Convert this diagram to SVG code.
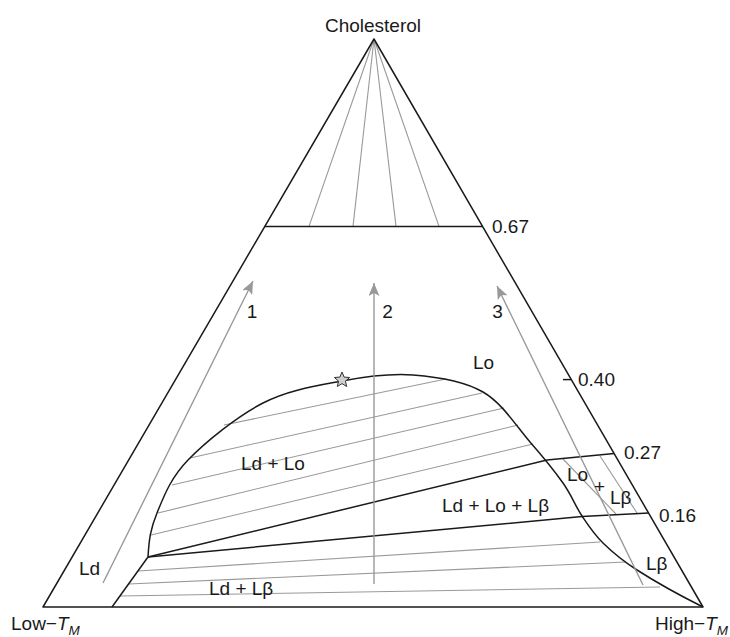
<svg xmlns="http://www.w3.org/2000/svg" width="730" height="637" viewBox="0 0 730 637">
<style>
.blk{fill:none;stroke:#1a1a1a;stroke-width:1.5;stroke-linejoin:round}
.gry{fill:none;stroke:#999;stroke-width:1.1}
.arr{fill:none;stroke:#999;stroke-width:1.4}
text{font-family:"Liberation Sans",Arial,sans-serif;font-size:19px;fill:#1a1a1a}
.sub{font-size:13.5px;font-style:italic}
.it{font-style:italic}
</style>
<defs>
<marker id="ah" markerUnits="userSpaceOnUse" markerWidth="14" markerHeight="11" refX="13" refY="5.5" orient="auto">
<path d="M0,0 L13,5.5 L0,11 L3,5.5 z" fill="#999"/>
</marker>
</defs>
<rect width="730" height="637" fill="#fff"/>

<g id="tielines" class="gry">
<line x1="374" y1="39" x2="309" y2="226.4"/>
<line x1="374" y1="39" x2="353" y2="226.4"/>
<line x1="374" y1="39" x2="396" y2="226.4"/>
<line x1="374" y1="39" x2="439" y2="226.4"/>
<line x1="224" y1="425" x2="446" y2="379"/>
<line x1="190" y1="458" x2="482" y2="393"/>
<line x1="172" y1="485" x2="504" y2="408"/>
<line x1="158" y1="513" x2="518" y2="425"/>
<line x1="151" y1="535" x2="533" y2="444"/>
<line x1="138" y1="571" x2="600" y2="542"/>
<line x1="128.5" y1="584" x2="626" y2="562"/>
<line x1="120" y1="596" x2="660" y2="587"/>
<line x1="563" y1="459" x2="616" y2="514"/>
<line x1="600" y1="456" x2="637" y2="513"/>
</g>

<g id="triangle" class="blk">
<path d="M374,39 L43,607 L703,607 Z"/>
<line x1="264.8" y1="226.4" x2="482.6" y2="226.4"/>
<line x1="563" y1="379.6" x2="571.4" y2="379.6"/>
</g>

<g id="phase-boundaries" class="blk">
<path d="M148,557 C149,540 150.3,529.2 157,513 C163.7,496.8 170.3,478.3 188,460 C205.7,441.7 237.3,416.2 263,403 C288.7,389.8 317,385.7 342,381 C367,376.3 389.5,373.2 413,375 C436.5,376.8 463.5,380.8 483,392 C502.5,403.2 516.7,426.8 530,442 C543.3,457.2 554.3,470.7 563,483 C571.7,495.3 575.3,506 582,516 C588.7,526 593.8,534 603,543 C612.2,552 620.3,559.3 637,570 C653.7,580.7 685,598 703,607"/>
<line x1="148" y1="557" x2="112" y2="607"/>
<polyline points="148,557 547,460 614.2,453.6"/>
<polyline points="148,557 582,516.5 649,513"/>
</g>

<g id="connectors">
<line class="arr" x1="103" y1="583" x2="253" y2="281" marker-end="url(#ah)"/>
<line class="arr" x1="374" y1="584" x2="374" y2="283" marker-end="url(#ah)"/>
<line class="arr" x1="643" y1="585" x2="497" y2="286" marker-end="url(#ah)"/>
</g>

<g id="star">
<polygon points="342,372 344.12,377.09 349.61,377.53 345.42,381.11 346.7,386.47 342,383.6 337.3,386.47 338.58,381.11 334.39,377.53 339.88,377.09" fill="#cfcfcf" stroke="#333" stroke-width="1"/>
</g>

<g id="labels">
<text x="373" y="32" text-anchor="middle">Cholesterol</text>
<text x="492" y="233">0.67</text>
<text x="578" y="386">0.40</text>
<text x="624" y="459">0.27</text>
<text x="659" y="522">0.16</text>
<text x="252" y="318" text-anchor="middle">1</text>
<text x="387.5" y="318" text-anchor="middle">2</text>
<text x="497.5" y="318" text-anchor="middle">3</text>
<text x="473" y="369">Lo</text>
<text x="241" y="470">Ld + Lo</text>
<text x="442" y="512">Ld + Lo + Lβ</text>
<text x="209" y="595">Ld + Lβ</text>
<text x="79" y="575">Ld</text>
<text x="567" y="481">Lo</text>
<text x="594" y="493">+</text>
<text x="610" y="504">Lβ</text>
<text x="646" y="570">Lβ</text>
<text x="11" y="630">Low−<tspan class="it">T</tspan><tspan class="sub" dy="5">M</tspan></text>
<text x="655" y="630">High−<tspan class="it">T</tspan><tspan class="sub" dy="5">M</tspan></text>
</g>
</svg>
